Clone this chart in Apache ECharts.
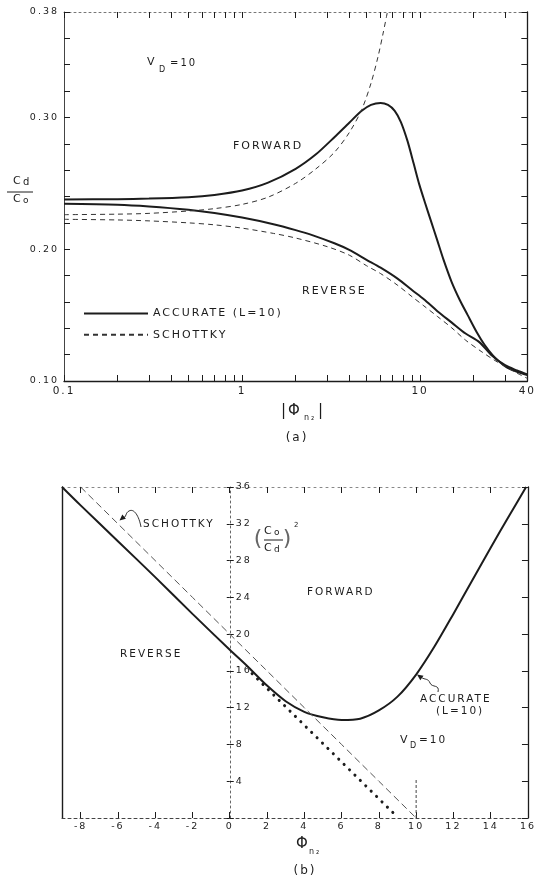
<!DOCTYPE html>
<html>
<head>
<meta charset="utf-8">
<script src="https://cdn.jsdelivr.net/npm/echarts@6.0.0/dist/echarts.min.js"></script>
<style>
  html, body { margin: 0; padding: 0; background: #fff; }
  #chart { width: 537px; height: 881px; }
</style>
</head>
<body>
<div id="chart"></div>
<script>
// ---- (a) Cd/C0 versus |Phi_n2|, log abscissa ----
const phiTicks = [0.1, 0.2, 0.3, 0.4, 0.5, 0.6, 0.7, 0.8, 0.9, 1, 2, 3, 4, 5, 6, 7, 8, 9, 10, 20, 30, 40];
const phiLabels = [0.1, 1, 10, 40];
const ratioLabels = [0.10, 0.20, 0.30, 0.38];

const accurateForward = [
  [0.1, 0.2378], [0.2, 0.2380], [0.3, 0.2384], [0.5, 0.2395], [0.7, 0.2412],
  [1.0, 0.2445], [1.4, 0.2505], [2.0, 0.2610], [2.6, 0.2720], [3.3, 0.2850],
  [4.0, 0.2960], [4.7, 0.3050], [5.3, 0.3095], [6.0, 0.3110], [6.6, 0.3095],
  [7.2, 0.3050], [7.8, 0.2965], [8.5, 0.2820], [9.2, 0.2650], [9.9, 0.2490],
  [10.7, 0.2345], [11.5, 0.2215], [12.5, 0.2065], [13.5, 0.1925], [15.0, 0.1755],
  [16.7, 0.1615], [18.5, 0.1500], [20.8, 0.1370], [23.0, 0.1275], [25.6, 0.1195],
  [28.0, 0.1145], [31.0, 0.1100], [35.0, 0.1070], [40.0, 0.1046]
];
const accurateReverse = [
  [0.1, 0.2345], [0.2, 0.2338], [0.3, 0.2325], [0.5, 0.2300], [0.7, 0.2275],
  [1.0, 0.2240], [1.5, 0.2190], [2.0, 0.2145], [2.5, 0.2105], [3.3, 0.2045],
  [4.0, 0.1995], [5.0, 0.1920], [6.0, 0.1860], [7.5, 0.1775], [9.0, 0.1690],
  [10.5, 0.1620], [12.5, 0.1530], [15.0, 0.1445], [18.0, 0.1360], [21.5, 0.1295],
  [25.0, 0.1200], [30.0, 0.1120], [35.0, 0.1080], [40.0, 0.1050]
];
const schottkyForward = [
  [0.1, 0.2262], [0.2, 0.2266], [0.3, 0.2272], [0.5, 0.2290], [0.7, 0.2308],
  [1.0, 0.2340], [1.4, 0.2395], [2.0, 0.2500], [2.6, 0.2610], [3.3, 0.2735],
  [4.0, 0.2885], [4.7, 0.3060], [5.3, 0.3260], [5.8, 0.3460], [6.2, 0.3640],
  [6.55, 0.3800]
];
const schottkyReverse = [
  [0.1, 0.2227], [0.2, 0.2222], [0.3, 0.2215], [0.5, 0.2200], [0.7, 0.2185],
  [1.0, 0.2160], [1.5, 0.2120], [2.0, 0.2085], [3.0, 0.2020], [4.0, 0.1955],
  [5.0, 0.1875], [6.0, 0.1815], [7.5, 0.1725], [9.0, 0.1640], [10.5, 0.1570],
  [12.5, 0.1490], [15.0, 0.1405], [18.0, 0.1310], [22.0, 0.1225], [26.0, 0.1160],
  [30.0, 0.1110], [35.0, 0.1060], [40.0, 0.1020]
];

// ---- (b) (C0/Cd)^2 versus Phi_n2 ----
const phiBLabels = [-8, -6, -4, -2, 0, 2, 4, 6, 8, 10, 12, 14, 16];
const accurateSquared = [
  [-9, 36.0], [-8, 34.0], [-6, 30.1], [-4, 26.2], [-2, 22.2], [0, 18.3],
  [1, 16.4], [2, 14.4], [3, 12.7], [4, 11.55], [5, 10.95], [6, 10.65],
  [7, 10.8], [8, 11.7], [9, 13.2], [10, 15.6], [11, 18.7], [12, 22.2],
  [13, 25.8], [14, 29.4], [15, 32.9], [15.9, 36.0]
];
const schottkySquared = [
  [-8, 36], [-6, 32], [-4, 28], [-2, 24], [0, 20], [2, 16], [4, 12], [6, 8], [8, 4], [10, 0]
];
const asymptote = [
  [1.2, 15.7], [2, 14.1], [3, 12.1], [4, 10.1], [5, 8.1], [6, 6.1], [7, 4.1], [8, 2.1], [8.9, 0.3]
];
const builtInMarker = [[10, 0], [10, 4.2]];

const FONT = '"DejaVu Sans", "Liberation Sans", sans-serif';
const INK = '#1c1c1c';

// Widely spaced lettering throughout the figure
(function () {
  const proto = CanvasRenderingContext2D.prototype;
  const fill = proto.fillText;
  proto.fillText = function (t, x, y, w) {
    if ('letterSpacing' in this) this.letterSpacing = '2px';
    return w === undefined ? fill.call(this, t, x, y) : fill.call(this, t, x, y, w);
  };
})();

// horizontal pixel shift that puts the (b) ordinate on Phi = 0
const B_LEFT = 62, B_WIDTH = 466, B_MIN = -9, B_MAX = 16;
const zeroShift = B_WIDTH * (0 - B_MIN) / (B_MAX - B_MIN);

function txt(x, y, s, size, extra) {
  return {
    type: 'text', x: x, y: y, silent: true,
    style: Object.assign({
      text: s, fontSize: size || 11, fontFamily: FONT, fill: INK,
      align: 'left', verticalAlign: 'middle'
    }, extra || {})
  };
}
function seg(x1, y1, x2, y2, w, color) {
  return { type: 'line', silent: true, shape: { x1, y1, x2, y2 },
    style: { stroke: color || INK, lineWidth: w || 1 } };
}
function curve(x1, y1, cpx1, cpy1, cpx2, cpy2, x2, y2) {
  return { type: 'bezierCurve', silent: true,
    shape: { x1, y1, cpx1, cpy1, cpx2, cpy2, x2, y2 },
    style: { stroke: INK, lineWidth: 0.9, fill: null } };
}
function head(points) {
  return { type: 'polygon', silent: true, shape: { points: points }, style: { fill: INK } };
}

const thinAxis = { color: INK, width: 1.3 };
const tickStyle = { color: INK, width: 1 };

const chart = echarts.init(document.getElementById('chart'), null, { renderer: 'canvas' });

chart.setOption({
  animation: false,
  backgroundColor: '#ffffff',
  textStyle: { fontFamily: FONT, color: INK },
  grid: [
    { left: 64, top: 12, width: 467, height: 369 },
    { left: B_LEFT, top: 487, width: B_WIDTH, height: 331 }
  ],
  legend: {
    data: ['ACCURATE (L=10)', 'SCHOTTKY'],
    orient: 'vertical', left: 78, top: 303,
    itemWidth: 64, itemHeight: 14, itemGap: 10,
    selectedMode: false,
    itemStyle: { opacity: 0 },
    textStyle: { fontSize: 11, color: INK, fontFamily: FONT }
  },
  xAxis: [
    {
      type: 'log', logBase: 10, gridIndex: 0, min: 0.1, max: 40, position: 'bottom',
      axisLine: { onZero: false, lineStyle: thinAxis },
      axisTick: { show: true, inside: true, length: 6, customValues: phiTicks, lineStyle: tickStyle },
      minorTick: { show: false }, splitLine: { show: false },
      axisLabel: { customValues: phiLabels, formatter: v => String(v), fontSize: 10.5, color: INK, margin: 5 }
    },
    {
      type: 'log', logBase: 10, gridIndex: 0, min: 0.1, max: 40, position: 'top',
      axisLine: { onZero: false, lineStyle: { color: '#777', width: 1, type: [2, 3] } },
      axisTick: { show: true, inside: true, length: 6, customValues: phiTicks, lineStyle: tickStyle },
      minorTick: { show: false }, splitLine: { show: false }, axisLabel: { show: false }
    },
    {
      type: 'value', gridIndex: 1, min: B_MIN, max: B_MAX, position: 'bottom',
      axisLine: { onZero: false, lineStyle: { color: '#444', width: 1, type: [3, 3] } },
      axisTick: { show: true, inside: true, length: 6, customValues: phiBLabels, lineStyle: tickStyle },
      splitLine: { show: false },
      axisLabel: { customValues: phiBLabels, fontSize: 9.5, color: INK, margin: 4 }
    },
    {
      type: 'value', gridIndex: 1, min: B_MIN, max: B_MAX, position: 'top',
      axisLine: { onZero: false, lineStyle: { color: '#888', width: 1, type: [2, 4] } },
      axisTick: { show: true, inside: true, length: 6, customValues: phiBLabels, lineStyle: tickStyle },
      splitLine: { show: false }, axisLabel: { show: false }
    }
  ],
  yAxis: [
    {
      type: 'value', gridIndex: 0, min: 0.10, max: 0.38, interval: 0.02, position: 'left',
      axisLine: { show: true, onZero: false, lineStyle: { color: '#444', width: 1 } },
      axisTick: { show: true, inside: true, length: 6, lineStyle: tickStyle },
      splitLine: { show: false },
      axisLabel: { customValues: ratioLabels, formatter: v => v.toFixed(2), fontSize: 9.5, color: INK, margin: 5 }
    },
    {
      type: 'value', gridIndex: 0, min: 0.10, max: 0.38, interval: 0.02, position: 'right',
      axisLine: { show: true, onZero: false, lineStyle: thinAxis },
      axisTick: { show: true, inside: true, length: 6, lineStyle: tickStyle },
      splitLine: { show: false }, axisLabel: { show: false }
    },
    {
      // ordinate drawn on Phi = 0, numbers to its right
      type: 'value', gridIndex: 1, min: 0, max: 36, interval: 4, position: 'left',
      offset: -zeroShift,
      axisLine: { show: true, onZero: false, lineStyle: { color: '#666', width: 1, type: [2, 3] } },
      axisTick: { show: true, inside: true, length: 4, lineStyle: tickStyle },
      splitLine: { show: false },
      axisLabel: { inside: true, margin: 6, fontSize: 9.5, color: INK, formatter: v => (v === 0 ? '' : String(v)) }
    },
    {
      type: 'value', gridIndex: 1, min: 0, max: 36, position: 'left',
      axisLine: { show: true, onZero: false, lineStyle: { color: INK, width: 1.4 } },
      axisTick: { show: false }, splitLine: { show: false }, axisLabel: { show: false }
    },
    {
      type: 'value', gridIndex: 1, min: 0, max: 36, interval: 4, position: 'right',
      axisLine: { show: true, onZero: false, lineStyle: thinAxis },
      axisTick: { show: true, inside: true, length: 6, lineStyle: tickStyle },
      splitLine: { show: false }, axisLabel: { show: false }
    },
    {
      // left half of the cross ticks on the Phi = 0 ordinate
      type: 'value', gridIndex: 1, min: 0, max: 36, interval: 4, position: 'left',
      offset: -zeroShift,
      axisLine: { show: false, onZero: false },
      axisTick: { show: true, inside: false, length: 3, lineStyle: tickStyle },
      splitLine: { show: false }, axisLabel: { show: false }
    }
  ],
  series: [
    {
      name: 'ACCURATE (L=10)', type: 'line', xAxisIndex: 0, yAxisIndex: 0,
      data: accurateForward, symbol: 'none', smooth: 0.25,
      lineStyle: { color: INK, width: 2 }, itemStyle: { color: INK }
    },
    {
      name: 'ACCURATE (L=10)', type: 'line', xAxisIndex: 0, yAxisIndex: 0,
      data: accurateReverse, symbol: 'none', smooth: 0.3,
      lineStyle: { color: INK, width: 2 }, itemStyle: { color: INK }
    },
    {
      name: 'SCHOTTKY', type: 'line', xAxisIndex: 0, yAxisIndex: 0,
      data: schottkyForward, symbol: 'none', smooth: 0.3,
      lineStyle: { color: '#333', width: 1, type: [5, 4] }, itemStyle: { color: '#333' }
    },
    {
      name: 'SCHOTTKY', type: 'line', xAxisIndex: 0, yAxisIndex: 0,
      data: schottkyReverse, symbol: 'none', smooth: 0.3,
      lineStyle: { color: '#333', width: 1, type: [5, 4] }, itemStyle: { color: '#333' }
    },
    {
      name: 'accurate squared', type: 'line', xAxisIndex: 2, yAxisIndex: 2,
      data: accurateSquared, symbol: 'none', smooth: 0.3,
      lineStyle: { color: INK, width: 2 }
    },
    {
      name: 'schottky squared', type: 'line', xAxisIndex: 2, yAxisIndex: 2,
      data: schottkySquared, symbol: 'none',
      lineStyle: { color: '#555', width: 1, type: [7, 4] }
    },
    {
      name: 'asymptote', type: 'line', xAxisIndex: 2, yAxisIndex: 2,
      data: asymptote, symbol: 'none',
      lineStyle: { color: INK, width: 3, type: [0.1, 7.5], cap: 'round' }
    },
    {
      name: 'built-in potential', type: 'line', xAxisIndex: 2, yAxisIndex: 2,
      data: builtInMarker, symbol: 'none',
      lineStyle: { color: '#444', width: 1, type: [3, 2] }
    }
  ],
  graphic: [
    // (a) ordinate label: Cd / Co
    txt(13, 181, 'C', 11), txt(23, 182, 'd', 10),
    seg(7, 192, 33, 192, 1),
    txt(13, 199, 'C', 11), txt(23, 201, 'o', 9),
    // (a) annotations
    txt(147, 62, 'V', 11), txt(159, 70, 'D', 8), txt(170, 63, '=10', 10),
    txt(233, 146, 'FORWARD', 11),
    txt(302, 291, 'REVERSE', 11),
    // (a) abscissa title and caption
    txt(281, 411, '|Φ', 15), txt(304, 418, 'n₂', 8), txt(318, 411, '|', 15),
    txt(297, 438, '(a)', 12, { align: 'center' }),

    // (b) annotations
    txt(143, 524, 'SCHOTTKY', 10.5),
    curve(141, 527, 139, 516, 134, 508, 129, 511),
    curve(129, 511, 125, 513, 127, 517, 122.5, 518.5),
    head([[119.5, 520.5], [125.9, 518.7], [122.3, 514.5]]),

    txt(259, 539, '(', 22, { align: 'center', fill: '#666' }),
    txt(264, 531, 'C', 11), txt(274, 533, 'o', 9),
    seg(264, 540, 283, 540, 1),
    txt(264, 548, 'C', 11), txt(274, 550, 'd', 9),
    txt(288, 539, ')', 22, { align: 'center', fill: '#666' }),
    txt(294, 525, '2', 7),

    txt(307, 592, 'FORWARD', 10.5),
    txt(120, 654, 'REVERSE', 10.5),
    txt(420, 699, 'ACCURATE', 10.5),
    txt(436, 711, '(L=10)', 10.5),
    curve(438, 692, 440, 684, 432, 688, 430, 683),
    curve(430, 683, 428, 678, 425, 680, 421.5, 677.5),
    head([[417, 674.5], [423.5, 675.7], [420.3, 680.3]]),

    txt(400, 740, 'V', 11), txt(410, 746, 'D', 8), txt(419, 740, '=10', 10.5),

    // (b) abscissa title and caption
    txt(296, 844, 'Φ', 15), txt(309, 852, 'n₂', 8),
    txt(305, 871, '(b)', 12, { align: 'center' })
  ]
});
</script>
</body>
</html>
